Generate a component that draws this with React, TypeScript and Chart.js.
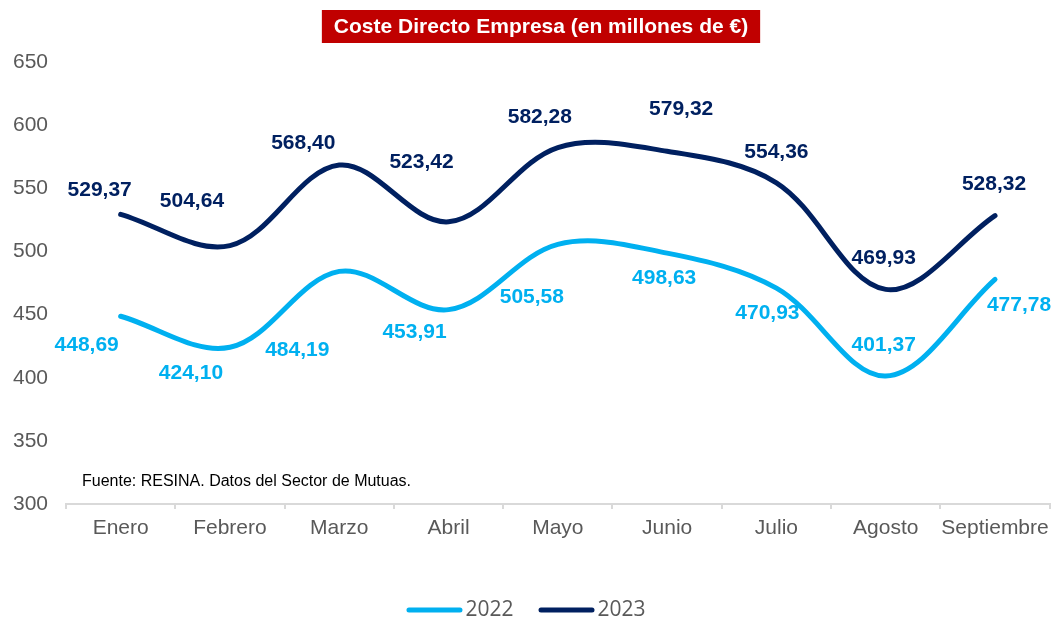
import React, { useEffect, useRef } from 'react';
import { Chart, registerables } from 'chart.js';

Chart.register(...registerables);

const categories = ['Enero', 'Febrero', 'Marzo', 'Abril', 'Mayo', 'Junio', 'Julio', 'Agosto', 'Septiembre'];
const values2022 = [448.69, 424.1, 484.19, 453.91, 505.58, 498.63, 470.93, 401.37, 477.78];
const values2023 = [529.37, 504.64, 568.4, 523.42, 582.28, 579.32, 554.36, 469.93, 528.32];
const seriesNames = ['2022', '2023'];
const yMin = 300;
const yMax = 650;
const yStep = 50;
const titleText = 'Coste Directo Empresa (en millones de €)';
const sourceText = 'Fuente: RESINA. Datos del Sector de Mutuas.';

// label placement offsets (styling only), relative to each point
const labelOffsets2022 = [[-34, 29], [-39, 26], [-42, 79], [-34, 23], [-26, 53], [-3, 25], [-9, 25], [-2, -31], [24, 26]];
const labelOffsets2023 = [[-21, -24], [-38, -44], [-36, -22], [-27, -60], [-18, -30], [14, -42], [0, -31], [-2, -31], [-1, -31]];

const COLOR_2022 = '#00B0F0';
const COLOR_2023 = '#002060';
const FONT = '"Liberation Sans", Arial, sans-serif';

const fmt = (v: number) => v.toFixed(2).replace('.', ',');

const titlePlugin = {
  id: 'titleBox',
  afterDraw(chart: any) {
    const ctx = chart.ctx;
    ctx.save();
    ctx.font = `bold 21px ${FONT}`;
    const w = ctx.measureText(titleText).width;
    const cx = 541;
    const boxW = w + 24;
    ctx.fillStyle = '#C00000';
    ctx.fillRect(cx - boxW / 2, 10, boxW, 33);
    ctx.fillStyle = '#FFFFFF';
    ctx.textAlign = 'center';
    ctx.textBaseline = 'middle';
    ctx.fillText(titleText, cx, 27);
    // source note
    ctx.font = `16px ${FONT}`;
    ctx.fillStyle = '#000000';
    ctx.textAlign = 'left';
    ctx.fillText(sourceText, chart.chartArea.left + 16, chart.chartArea.bottom - 22);
    ctx.restore();
  },
};

const labelsPlugin = {
  id: 'valueLabels',
  afterDatasetsDraw(chart: any) {
    const ctx = chart.ctx;
    ctx.save();
    ctx.font = `bold 21px ${FONT}`;
    ctx.textAlign = 'center';
    ctx.textBaseline = 'middle';
    chart.data.datasets.forEach((ds: any, di: number) => {
      const meta = chart.getDatasetMeta(di);
      const offs = ds.labelOffsets || [];
      ctx.fillStyle = ds.borderColor;
      meta.data.forEach((pt: any, i: number) => {
        const o = offs[i] || [0, -20];
        ctx.fillText(fmt(ds.data[i]), pt.x + o[0], pt.y + o[1]);
      });
    });
    ctx.restore();
  },
};

const legendPlugin = {
  id: 'customLegend',
  afterDraw(chart: any) {
    const ctx = chart.ctx;
    ctx.save();
    ctx.font = `21px "Open Sans", Lato, sans-serif`;
    ctx.textBaseline = 'middle';
    const boxW = 56;
    const gap = 3;
    const itemGap = 25;
    const items = chart.data.datasets.map((ds: any) => ({
      text: ds.label,
      color: ds.borderColor,
      tw: ctx.measureText(ds.label).width,
    }));
    const total = items.reduce((s: number, it: any, i: number) => s + boxW + gap + it.tw + (i > 0 ? itemGap : 0), 0);
    let x = 526 - total / 2;
    const y = 610;
    items.forEach((it: any) => {
      ctx.strokeStyle = it.color;
      ctx.lineWidth = 5;
      ctx.lineCap = 'round';
      ctx.beginPath();
      ctx.moveTo(x + 2.5, y);
      ctx.lineTo(x + boxW - 2.5, y);
      ctx.stroke();
      ctx.fillStyle = '#595959';
      ctx.textAlign = 'left';
      ctx.fillText(it.text, x + boxW + gap, y);
      x += boxW + gap + it.tw + itemGap;
    });
    ctx.restore();
  },
};

export default function App() {
  const ref = useRef<HTMLCanvasElement | null>(null);

  useEffect(() => {
    if (!ref.current) return;
    const chart = new Chart(ref.current, {
      type: 'line',
      data: {
        labels: categories,
        datasets: [
          {
            label: seriesNames[0],
            data: values2022,
            borderColor: COLOR_2022,
            backgroundColor: COLOR_2022,
            borderWidth: 5,
            pointRadius: 0,
            tension: 0.35,
            borderCapStyle: 'round',
            borderJoinStyle: 'round',
            labelOffsets: labelOffsets2022,
          } as any,
          {
            label: seriesNames[1],
            data: values2023,
            borderColor: COLOR_2023,
            backgroundColor: COLOR_2023,
            borderWidth: 5,
            pointRadius: 0,
            tension: 0.35,
            borderCapStyle: 'round',
            borderJoinStyle: 'round',
            labelOffsets: labelOffsets2023,
          } as any,
        ],
      },
      options: {
        animation: false,
        responsive: true,
        maintainAspectRatio: false,
        layout: { padding: { top: 62, right: 5, left: 0, bottom: 75 } },
        plugins: {
          legend: { display: false },
          tooltip: { enabled: false },
          title: { display: false },
        },
        scales: {
          x: {
            offset: true,
            grid: {
              display: true,
              offset: true,
              drawOnChartArea: false,
              drawTicks: true,
              tickLength: 5,
              color: '#D9D9D9',
              lineWidth: 2,
            },
            border: { display: true, color: '#D9D9D9', width: 2 },
            ticks: {
              color: '#595959',
              font: { family: FONT, size: 21 },
              padding: 7,
              maxRotation: 0,
              autoSkip: false,
            },
            afterFit: (s: any) => { s.height = 40; },
          },
          y: {
            min: yMin,
            max: yMax,
            grid: { display: false, drawTicks: false },
            border: { display: false },
            ticks: {
              stepSize: yStep,
              color: '#595959',
              font: { family: FONT, size: 21 },
              padding: 18,
            },
            afterFit: (s: any) => { s.width = 66; },
          },
        },
      },
      plugins: [titlePlugin, labelsPlugin, legendPlugin],
    });
    return () => chart.destroy();
  }, []);

  return (
    <div style={{ position: 'fixed', left: 0, top: 0, width: 1056, height: 619, background: '#fff' }}>
      <canvas ref={ref} />
    </div>
  );
}
